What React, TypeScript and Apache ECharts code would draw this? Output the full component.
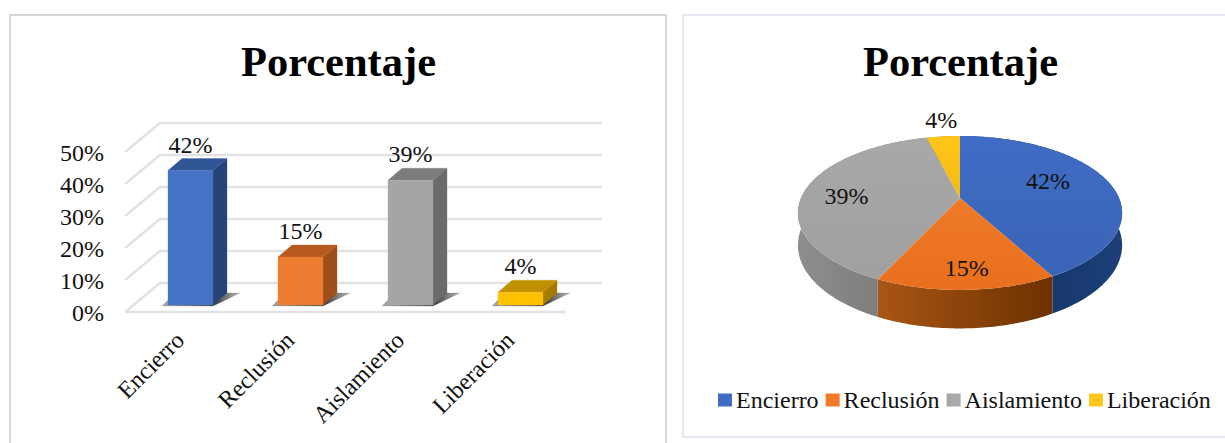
import React, { useEffect, useRef } from "react";
import * as echarts from "echarts";

const categories = ["Encierro", "Reclusión", "Aislamiento", "Liberación"];
const percentages = [42, 15, 39, 4];
const yTicks = [0, 10, 20, 30, 40, 50];
const titleText = "Porcentaje";

const FONT = "'Liberation Serif', 'Times New Roman', serif";
const faces = [
  { front: "#4472c4", side: "#264478", top: "#2f5597" },
  { front: "#ed7d31", side: "#9e4f1a", top: "#b85a20" },
  { front: "#a5a5a5", side: "#6b6b6b", top: "#7c7c7c" },
  { front: "#ffc000", side: "#a67c00", top: "#bf9000" },
];
const pieTop = [
  ["#3f6cc4", "#3a64b6"],
  ["#f07a28", "#e86f1e"],
  ["#a8a8a8", "#a0a0a0"],
  ["#ffc61a", "#f2bb10"],
];
const pieSide = [
  ["#10305f", "#1c3f78"],
  ["#a95515", "#6d3200"],
  ["#8e8e8e", "#747474"],
  ["#b08500", "#b08500"],
];
const labelRadius = [0.58, 0.8, 0.7, 1.3];
const labelNudge = [[1, -7], [2, 0], [-4, 3], [2, -2]];

// Perspective projection of the pie's disc
const PIE = { cx: 960, cy: 198, a: 159, b: 74, k: 0.195, t: 31 };
const project = (f: number, deg: number, drop = false) => {
  const r = (deg * Math.PI) / 180;
  const u = f * Math.sin(r);
  const v = f * Math.cos(r);
  const w = 1 + PIE.k * v;
  return [PIE.cx + (PIE.a * u) / w, PIE.cy - (PIE.b * v) / w + (drop ? PIE.t / w : 0)];
};
const total = percentages.reduce((s, v) => s + v, 0);
const sliceRange = (i: number) => {
  const before = percentages.slice(0, i).reduce((s, v) => s + v, 0);
  return [(before / total) * 360, ((before + percentages[i]) / total) * 360];
};
const arcPts = (i: number, drop = false) => {
  const [s, e] = sliceRange(i);
  const n = Math.max(4, Math.ceil(e - s));
  const pts: number[][] = [];
  for (let j = 0; j <= n; j++) pts.push(project(1, s + ((e - s) * j) / n, drop));
  return pts;
};

const DX = 35; // floor depth
const DY = 29;
const WALL_RIGHT = 602;
const LIFT = 1; // marks sit a pixel above the tick-label centres

const wallItem = (_: any, api: any) => {
  const v = api.value(0);
  const [, yRaw] = api.coord([0, v]);
  const y = yRaw - LIFT;
  const x0 = api.coord([0, 0])[0] - api.size([1, 0])[0] / 2;
  const line = (pts: number[][]) => ({
    type: "polyline",
    shape: { points: pts },
    style: { stroke: "#e2e2e2", lineWidth: 2.4, fill: "none" },
  });
  const children: any[] = [line([[x0, y], [x0 + DX, y - DY], [WALL_RIGHT, y - DY]])];
  if (v === 0) children.push(line([[x0, y], [565, y]]));
  return { type: "group", children };
};

const barItem = (p: any, api: any) => {
  const i = api.value(0);
  const c = faces[i];
  const [cx, y0] = api.coord([i, 0]);
  const [, yv] = api.coord([i, api.value(1)]);
  const w = 45;
  const xl = cx - 12;
  const xr = xl + w;
  const off = 7 + LIFT;
  const yb = y0 - off;
  const yt = yv - off;
  const dx = 14;
  const dy = 12;
  const poly = (points: number[][], fill: any) => ({
    type: "polygon",
    shape: { points },
    style: { fill, stroke: fill, lineWidth: 0.3 },
  });
  return {
    type: "group",
    children: [
      poly(
        [[xl - 6, yb + 1], [xr, yb + 1], [xr + 27, yb - 12], [xr + 10, yb - 12], [xl, yb - 5]],
        new echarts.graphic.LinearGradient(0, 0, 1, 0, [
          { offset: 0, color: "rgba(110,110,110,0.6)" },
          { offset: 0.7, color: "rgba(45,45,45,0.9)" },
          { offset: 1, color: "rgba(120,120,120,0.55)" },
        ])
      ),
      poly([[xr, yb], [xr + dx, yb - dy], [xr + dx, yt - dy], [xr, yt]], c.side),
      poly([[xl, yt], [xl + dx, yt - dy], [xr + dx, yt - dy], [xr, yt]], c.top),
      poly([[xl, yb], [xr, yb], [xr, yt], [xl, yt]], c.front),
      {
        type: "text",
        style: {
          text: api.value(1) + "%",
          x: xl + w / 2,
          y: yt - 26,
          align: "center",
          verticalAlign: "middle",
          font: `24px ${FONT}`,
          fill: "#111",
        },
      },
    ],
  };
};

const grad = (pair: string[], vertical = false) =>
  new echarts.graphic.LinearGradient(0, 0, vertical ? 0 : 1, vertical ? 1 : 0, [
    { offset: 0, color: pair[0] },
    { offset: 1, color: pair[1] },
  ]);

const wallSeries = categories.map((_, i) => ({
  type: "custom",
  coordinateSystem: "none",
  silent: true,
  z: 3,
  data: [[percentages[i]]],
  renderItem: () => {
    const top = arcPts(i);
    const bottom = arcPts(i, true).reverse();
    return {
      type: "polygon",
      shape: { points: [...top, ...bottom] },
      style: { fill: grad(pieSide[i]) },
    };
  },
}));

const topSeries = categories.map((name, i) => ({
  type: "custom",
  name,
  coordinateSystem: "none",
  silent: true,
  z: 4,
  itemStyle: { color: pieTop[i][0] },
  data: [[percentages[i]]],
  renderItem: () => ({
    type: "polygon",
    shape: { points: [[PIE.cx, PIE.cy], ...arcPts(i)] },
    style: { fill: grad(pieTop[i], true) },
  }),
}));

const pieLabelSeries = {
  type: "custom",
  coordinateSystem: "none",
  silent: true,
  z: 5,
  data: percentages.map((v, i) => [v, i]),
  renderItem: (_: any, api: any) => {
    const i = api.value(1);
    const [s, e] = sliceRange(i);
    const [x, y] = project(labelRadius[i], (s + e) / 2);
    return {
      type: "text",
      style: {
        text: api.value(0) + "%",
        x: x + labelNudge[i][0],
        y: y + labelNudge[i][1],
        align: "center",
        verticalAlign: "middle",
        font: `24px ${FONT}`,
        fill: "#111",
      },
    };
  },
};

const titleStyle = { fontFamily: FONT, fontSize: 42.5, fontWeight: "bold", color: "#000" };

export default function App() {
  const ref = useRef<HTMLDivElement>(null);
  useEffect(() => {
    const chart = echarts.init(ref.current!, null, { renderer: "svg" });
    chart.setOption({
      animation: false,
      backgroundColor: "#fff",
      title: [
        { text: titleText, left: 338.5, top: 40, padding: 0, textAlign: "center", textStyle: titleStyle },
        { text: titleText, left: 960.5, top: 40, padding: 0, textAlign: "center", textStyle: titleStyle },
      ],
      graphic: [
        { type: "rect", silent: true, z: -1, shape: { x: 10, y: 15, width: 656, height: 440 }, style: { fill: "#fff", stroke: "#d6d6d6", lineWidth: 2 } },
        { type: "rect", silent: true, z: -1, shape: { x: 683, y: 15, width: 560, height: 422 }, style: { fill: "#fff", stroke: "#e4e8f0", lineWidth: 2 } },
      ],
      legend: {
        left: 713,
        top: 383,
        itemWidth: 14,
        itemHeight: 13,
        itemGap: 7,
        icon: "rect",
        data: categories,
        selectedMode: false,
        textStyle: { fontFamily: FONT, fontSize: 24, color: "#111", padding: [0, 0, 0, -1] },
      },
      grid: { left: 125, top: 153, width: 440, height: 160, containLabel: false },
      xAxis: {
        type: "category",
        data: categories,
        axisLine: { show: false },
        axisTick: { show: false },
        axisLabel: { rotate: 45, interval: 0, margin: 23, fontFamily: FONT, fontSize: 24, color: "#111" },
      },
      yAxis: {
        type: "value",
        min: 0,
        max: 50,
        interval: 10,
        axisLine: { show: false },
        axisTick: { show: false },
        splitLine: { show: false },
        axisLabel: { formatter: "{value}%", margin: 21, fontFamily: FONT, fontSize: 24, color: "#111" },
      },
      series: [
        { type: "custom", coordinateSystem: "cartesian2d", silent: true, z: 1, data: yTicks.map((t) => [t]), encode: { y: 0 }, renderItem: wallItem },
        { type: "custom", coordinateSystem: "cartesian2d", silent: true, z: 2, data: percentages.map((v, i) => [i, v]), encode: { x: 0, y: 1 }, renderItem: barItem },
        ...wallSeries,
        ...topSeries,
        pieLabelSeries,
      ],
    });
    return () => chart.dispose();
  }, []);
  return <div ref={ref} style={{ position: "absolute", left: 0, top: 0, width: 1225, height: 443 }} />;
}
